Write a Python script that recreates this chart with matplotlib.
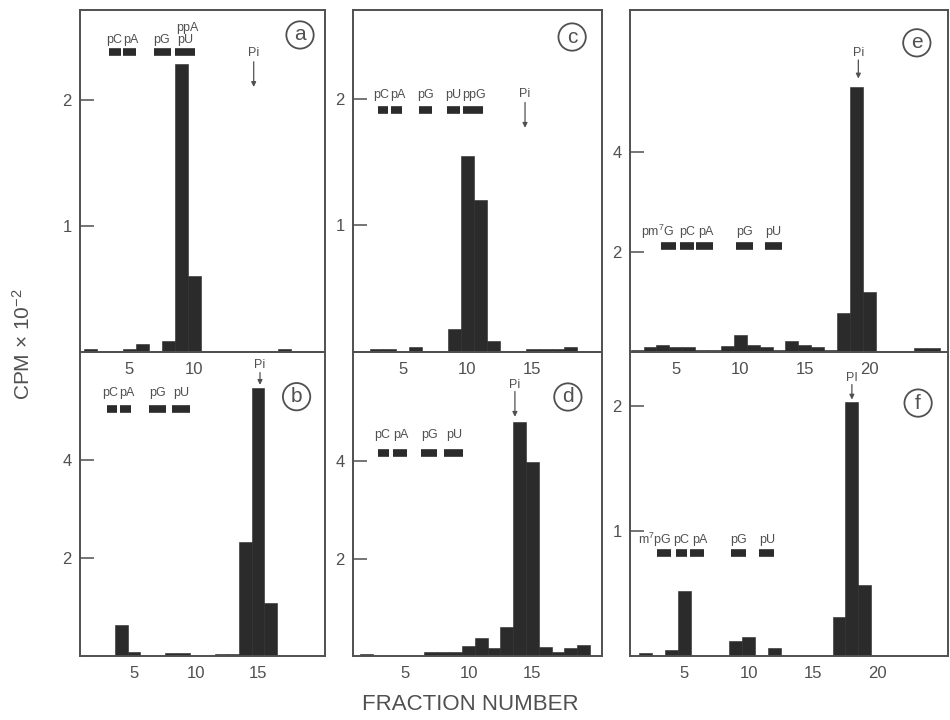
import numpy as np
import matplotlib
matplotlib.use('Agg')
import matplotlib.pyplot as plt

plt.rcParams['font.family'] = ['Liberation Sans', 'DejaVu Sans']
plt.rcParams['mathtext.fontset'] = 'custom'
plt.rcParams['mathtext.rm'] = 'Liberation Sans'
plt.rcParams['mathtext.it'] = 'Liberation Sans'

# fraction numbers and counts (CPM x 10^-2) per panel
frac_a = [2, 5, 6, 8, 9, 10, 11, 14, 17]
cpm_a = [0.02, 0.02, 0.06, 0.09, 2.28, 0.6, 0.01, 0.01, 0.02]

frac_b = [4, 5, 8, 9, 12, 13, 14, 15, 16]
cpm_b = [0.64, 0.09, 0.07, 0.07, 0.05, 0.05, 2.33, 5.47, 1.08]

frac_c = [3, 4, 6, 9, 10, 11, 12, 15, 16, 17, 18]
cpm_c = [0.02, 0.02, 0.04, 0.185, 1.545, 1.2, 0.09, 0.02, 0.02, 0.02, 0.04]

frac_d = [2, 7, 8, 9, 10, 11, 12, 13, 14, 15, 16, 17, 18, 19]
cpm_d = [0.04, 0.09, 0.09, 0.09, 0.21, 0.37, 0.16, 0.6, 4.81, 3.99, 0.18, 0.09, 0.16, 0.22]

frac_e = [2, 3, 4, 5, 6, 7, 8, 9, 10, 11, 12, 13, 14, 15, 16, 17, 18, 19, 20, 24, 25]
cpm_e = [0.05, 0.1, 0.14, 0.1, 0.1, 0.05, 0.05, 0.12, 0.35, 0.14, 0.1, 0.05, 0.22, 0.14,
         0.1, 0.05, 0.79, 5.3, 1.2, 0.08, 0.08]

frac_f = [2, 4, 5, 9, 10, 12, 17, 18, 19]
cpm_f = [0.02, 0.05, 0.52, 0.12, 0.15, 0.06, 0.31, 2.03, 0.57]

# marker positions (name, start fraction, end fraction, label x)
markers_a = [('pC', 3.4, 4.35, 3.8), ('pA', 4.5, 5.5, 5.1), ('pG', 6.9, 8.2, 7.5), ('pU', 8.5, 10.1, 9.35)]
markers_b = [('pC', 2.8, 3.6, 3.1), ('pA', 3.9, 4.8, 4.45), ('pG', 6.2, 7.6, 6.9), ('pU', 8.1, 9.5, 8.8)]
markers_c = [('pC', 3.05, 3.85, 3.35), ('pA', 4.1, 4.95, 4.6), ('pG', 6.25, 7.25, 6.75),
             ('pU', 8.45, 9.4, 8.9), ('ppG', 9.65, 11.2, 10.5)]
markers_d = [('pC', 2.9, 3.75, 3.2), ('pA', 4.05, 5.15, 4.7), ('pG', 6.25, 7.5, 6.9), ('pU', 8.1, 9.6, 8.85)]
markers_e = [('pm$^7$G', 3.85, 5.05, 3.6), ('pC', 5.3, 6.4, 5.9), ('pA', 6.6, 7.9, 7.3),
             ('pG', 9.7, 10.95, 10.3), ('pU', 11.9, 13.2, 12.55)]
markers_f = [('m$^7$pG', 2.9, 3.95, 2.75), ('pC', 4.4, 5.25, 4.75), ('pA', 5.45, 6.5, 6.2),
             ('pG', 8.6, 9.8, 9.2), ('pU', 10.8, 12.0, 11.4)]

dark = '#2b2b2b'
grey = '#505050'

def panel(rect, frac, cpm, xlim, ylim, yticks, xticks, markers, mark_y, text_y,
          pi, letter, letter_pos, extra=None):
	ax = fig.add_axes(rect)
	ax.set_facecolor('none')
	ax.bar(frac, cpm, width=1.0, color=dark, edgecolor=dark, linewidth=0.4, zorder=2)
	ax.set_xlim(xlim)
	ax.set_ylim(ylim)
	ax.set_yticks(yticks)
	ax.set_yticklabels([str(t) for t in yticks])
	ax.set_xticks(xticks)
	ax.set_xticklabels([str(t) for t in xticks])
	ax.tick_params(axis='y', direction='in', length=10, width=1.1, color=grey,
	               pad=6, labelsize=12, labelcolor=grey)
	ax.tick_params(axis='x', length=0, pad=7, labelsize=12, labelcolor=grey)
	for s in ax.spines.values():
		s.set_color(grey)
		s.set_linewidth(1.4)

	for name, x0, x1, lx in markers:
		ax.hlines(mark_y, x0, x1, color=dark, linewidth=5.5, capstyle='butt')
		ax.text(lx, text_y, name, ha='center', va='center', fontsize=9, color=grey)

	if extra is not None:
		ax.text(extra[0], extra[1], extra[2], ha='center', va='center', fontsize=9, color=grey)

	px, pt, ptail, phead, plabel = pi
	ax.text(px, pt, plabel, ha='center', va='center', fontsize=9, color=grey)
	ax.annotate('', xy=(px, phead), xytext=(px, ptail),
	            arrowprops=dict(arrowstyle='-|>', lw=0.9, color=grey, mutation_scale=7,
	                            shrinkA=0, shrinkB=0))

	ax.text(letter_pos[0], letter_pos[1], letter, transform=ax.transAxes, ha='center',
	        va='center', fontsize=15, color=grey,
	        bbox=dict(boxstyle='circle,pad=0.2', fc='white', ec=grey, lw=1.3))
	return ax

fig = plt.figure(figsize=(9.5, 7.2), dpi=100)

W, H = 950., 720.
def rect(x0, x1, ytop, ybot):
	return [x0 / W, 1 - ybot / H, (x1 - x0) / W, (ybot - ytop) / H]

panel(rect(80, 325, 10, 352), frac_a, cpm_a, (1.2, 20.1), (0, 2.71), [1, 2], [5, 10],
      markers_a, 2.38, 2.47, (14.6, 2.37, 2.30, 2.10, 'Pi'), 'a', (0.898, 0.927),
      extra=(9.5, 2.57, 'ppA'))
panel(rect(80, 325, 352, 656), frac_b, cpm_b, (0.65, 20.4), (0, 6.2), [2, 4], [5, 10, 15],
      markers_b, 5.03, 5.36, (15.16, 5.94, 5.78, 5.53, 'Pi'), 'b', (0.884, 0.853))
panel(rect(353, 602, 10, 352), frac_c, cpm_c, (1.15, 20.4), (0, 2.70), [1, 2], [5, 10, 15],
      markers_c, 1.91, 2.03, (14.45, 2.04, 1.97, 1.77, 'Pi'), 'c', (0.88, 0.921))
panel(rect(353, 602, 352, 656), frac_d, cpm_d, (0.95, 20.45), (0, 6.24), [2, 4], [5, 10, 15],
      markers_d, 4.17, 4.54, (13.63, 5.56, 5.43, 4.91, 'Pi'), 'd', (0.863, 0.852))
panel(rect(630, 948, 10, 352), frac_e, cpm_e, (1.45, 26.1), (0, 6.84), [2, 4], [5, 10, 15, 20],
      markers_e, 2.13, 2.41, (19.15, 5.97, 5.84, 5.47, 'Pi'), 'e', (0.902, 0.904))
panel(rect(630, 948, 352, 656), frac_f, cpm_f, (0.8, 25.45), (0, 2.43), [1, 2], [5, 10, 15, 20],
      markers_f, 0.82, 0.93, (18.0, 2.22, 2.17, 2.05, 'PI'), 'f', (0.906, 0.832))

fig.text(23 / W, 1 - 344 / H, 'CPM \u00d7 10$^{-2}$', rotation=90, ha='center', va='center',
         fontsize=15, color=grey)
fig.text(470 / W, 1 - 704 / H, 'FRACTION NUMBER', ha='center', va='center',
         fontsize=16, color=grey)

fig.savefig('out.png', dpi=100)
